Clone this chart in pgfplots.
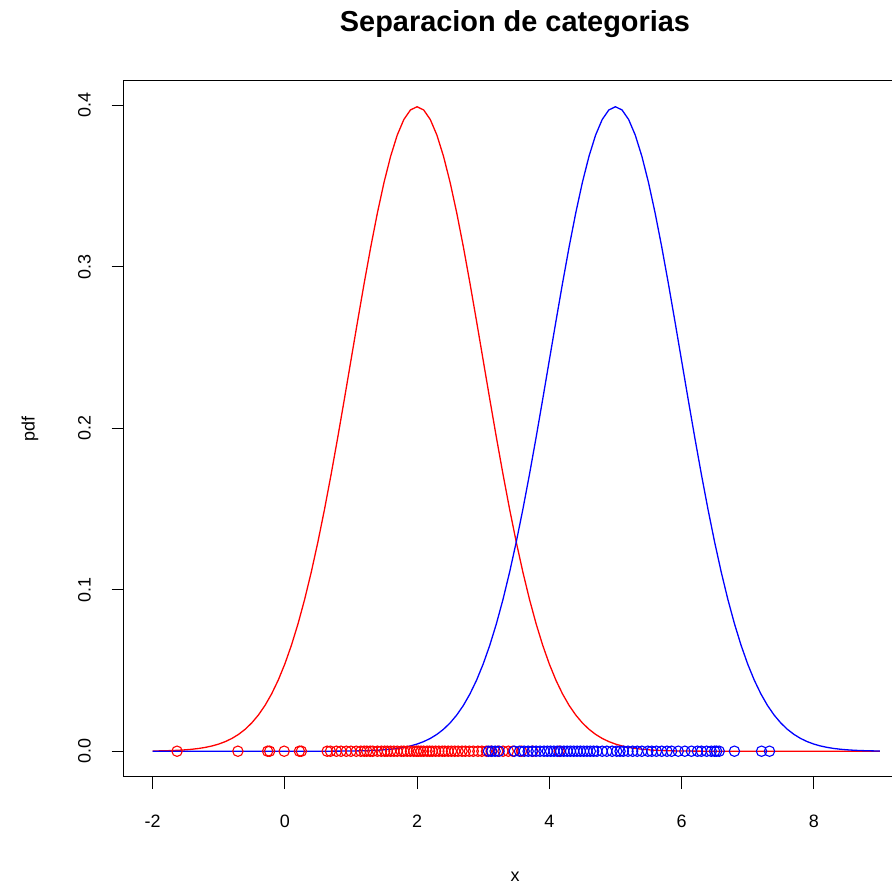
\documentclass[border=0pt]{standalone}
\usepackage{pgfplots}
\usepackage{pgfplotstable}
\pgfplotsset{compat=1.18}
\usepackage{fontspec}
\setmainfont{Liberation Sans}

\pgfplotstableread{
x r b
-2.0 0.000134 0
-1.9 0.000199 0
-1.8 0.000292 0
-1.7 0.000425 0
-1.6 0.000612 0
-1.5 0.000873 0
-1.4 0.001232 0
-1.3 0.001723 0
-1.2 0.002384 0
-1.1 0.003267 0
-1.0 0.004432 0
-0.9 0.005953 0
-0.8 0.007915 0
-0.7 0.010421 0
-0.6 0.013583 0
-0.5 0.017528 0
-0.4 0.022395 0
-0.3 0.028327 0
-0.2 0.035475 0
-0.1 0.043984 0
0.0 0.053991 0.0000015
0.1 0.065616 0.0000024
0.2 0.078950 0.0000039
0.3 0.094049 0.0000063
0.4 0.110921 0.0000101
0.5 0.129518 0.0000160
0.6 0.149727 0.0000249
0.7 0.171369 0.0000385
0.8 0.194186 0.0000589
0.9 0.217852 0.0000893
1.0 0.241971 0.000134
1.1 0.266085 0.000199
1.2 0.289692 0.000292
1.3 0.312254 0.000425
1.4 0.333225 0.000612
1.5 0.352065 0.000873
1.6 0.368270 0.001232
1.7 0.381388 0.001723
1.8 0.391043 0.002384
1.9 0.396953 0.003267
2.0 0.398942 0.004432
2.1 0.396953 0.005953
2.2 0.391043 0.007915
2.3 0.381388 0.010421
2.4 0.368270 0.013583
2.5 0.352065 0.017528
2.6 0.333225 0.022395
2.7 0.312254 0.028327
2.8 0.289692 0.035475
2.9 0.266085 0.043984
3.0 0.241971 0.053991
3.1 0.217852 0.065616
3.2 0.194186 0.078950
3.3 0.171369 0.094049
3.4 0.149727 0.110921
3.5 0.129518 0.129518
3.6 0.110921 0.149727
3.7 0.094049 0.171369
3.8 0.078950 0.194186
3.9 0.065616 0.217852
4.0 0.053991 0.241971
4.1 0.043984 0.266085
4.2 0.035475 0.289692
4.3 0.028327 0.312254
4.4 0.022395 0.333225
4.5 0.017528 0.352065
4.6 0.013583 0.368270
4.7 0.010421 0.381388
4.8 0.007915 0.391043
4.9 0.005953 0.396953
5.0 0.004432 0.398942
5.1 0.003267 0.396953
5.2 0.002384 0.391043
5.3 0.001723 0.381388
5.4 0.001232 0.368270
5.5 0.000873 0.352065
5.6 0.000612 0.333225
5.7 0.000425 0.312254
5.8 0.000292 0.289692
5.9 0.000199 0.266085
6.0 0.000134 0.241971
6.1 0.0000893 0.217852
6.2 0.0000589 0.194186
6.3 0.0000385 0.171369
6.4 0.0000249 0.149727
6.5 0.0000160 0.129518
6.6 0.0000101 0.110921
6.7 0.0000063 0.094049
6.8 0.0000039 0.078950
6.9 0.0000024 0.065616
7.0 0.0000015 0.053991
7.1 0 0.043984
7.2 0 0.035475
7.3 0 0.028327
7.4 0 0.022395
7.5 0 0.017528
7.6 0 0.013583
7.7 0 0.010421
7.8 0 0.007915
7.9 0 0.005953
8.0 0 0.004432
8.1 0 0.003267
8.2 0 0.002384
8.3 0 0.001723
8.4 0 0.001232
8.5 0 0.000873
8.6 0 0.000612
8.7 0 0.000425
8.8 0 0.000292
8.9 0 0.000199
9.0 0 0.000134
}\curves

\begin{document}
\begin{tikzpicture}
\path[use as bounding box, clip] (0bp,0bp) rectangle (892bp,886bp);
\begin{axis}[
  at={(123.5bp,109bp)}, anchor=south west,
  scale only axis, width=785.5bp, height=696bp,
  xmin=-2.44, xmax=9.44, ymin=-0.01596, ymax=0.41489,
  axis line style={black, line width=1bp},
  xtick={-2,0,2,4,6,8}, xticklabels={-2,0,2,4,6,8},
  ytick={0,0.1,0.2,0.3,0.4}, yticklabels={0.0,0.1,0.2,0.3,0.4},
  xtick pos=bottom, ytick pos=left,
  tick align=outside, major tick length=12bp,
  tick style={black, line width=1bp},
  ticklabel style={font=\fontsize{18}{21}\selectfont},
  xticklabel style={anchor=center, yshift=-32bp},
  yticklabel style={rotate=90, anchor=center, yshift=27bp},
  clip=false,
]
\addplot[red, line width=1.3bp] table[x=x, y=r] {\curves};
\addplot[blue, line width=1.3bp] table[x=x, y=b] {\curves};
\addplot[only marks, mark=o, red, mark size=5.2bp, mark options={line width=1.1bp}] coordinates {
(-1.63,0) (-0.71,0) (-0.26,0) (-0.23,0) (-0.01,0) (0.22,0) (0.25,0) (0.64,0) (0.69,0) (0.78,0)
(0.85,0) (0.93,0) (1.00,0) (1.08,0) (1.15,0) (1.20,0) (1.24,0) (1.29,0) (1.33,0) (1.40,0)
(1.46,0) (1.51,0) (1.55,0) (1.60,0) (1.65,0) (1.70,0) (1.76,0) (1.80,0) (1.85,0) (1.90,0)
(1.95,0) (1.99,0) (2.02,0) (2.06,0) (2.10,0) (2.15,0) (2.19,0) (2.23,0) (2.28,0) (2.33,0)
(2.38,0) (2.42,0) (2.47,0) (2.52,0) (2.57,0) (2.62,0) (2.68,0) (2.73,0) (2.79,0) (2.85,0)
(2.92,0) (2.98,0) (3.05,0) (3.12,0) (3.22,0) (3.30,0) (3.38,0) (3.45,0) (3.58,0) (3.75,0) (4.15,0)
};
\addplot[only marks, mark=o, blue, mark size=5.2bp, mark options={line width=1.1bp}] coordinates {
(3.08,0) (3.13,0) (3.18,0) (3.24,0) (3.47,0) (3.55,0) (3.62,0) (3.68,0) (3.74,0) (3.80,0)
(3.86,0) (3.92,0) (3.97,0) (4.02,0) (4.07,0) (4.12,0) (4.17,0) (4.22,0) (4.27,0) (4.32,0)
(4.37,0) (4.42,0) (4.47,0) (4.52,0) (4.57,0) (4.62,0) (4.67,0) (4.72,0) (4.80,0) (4.87,0)
(4.95,0) (5.02,0) (5.07,0) (5.12,0) (5.19,0) (5.26,0) (5.33,0) (5.40,0) (5.49,0) (5.55,0)
(5.62,0) (5.70,0) (5.78,0) (5.85,0) (5.95,0) (6.05,0) (6.15,0) (6.24,0) (6.30,0) (6.38,0)
(6.45,0) (6.50,0) (6.53,0) (6.57,0) (6.80,0) (7.21,0) (7.33,0)
};
\end{axis}
\node[font=\bfseries\fontsize{29}{34}\selectfont] at (515bp,862bp) {Separacion de categorias};
\node[font=\fontsize{18}{21}\selectfont, rotate=90] at (30bp,457bp) {pdf};
\node[font=\fontsize{18}{21}\selectfont, inner sep=0pt] at (515bp,9bp) {x};
\end{tikzpicture}
\end{document}
